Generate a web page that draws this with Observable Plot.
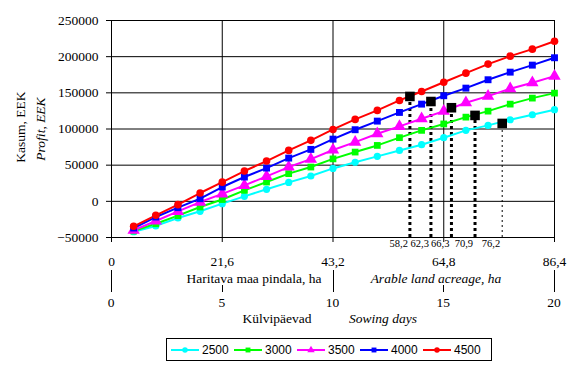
<!DOCTYPE html>
<html><head><meta charset="utf-8">
<script src="https://cdn.jsdelivr.net/npm/d3@7"></script>
<script src="https://cdn.jsdelivr.net/npm/@observablehq/plot@0.6"></script>
<style>
body{margin:0;background:#fff;}
#wrap{position:relative;width:578px;height:375px;background:#fff;font-family:"Liberation Serif","Times New Roman",serif;}
#wrap svg{position:absolute;left:0;top:0;}
#legend{position:absolute;left:166px;top:338px;width:324px;height:21px;border:1px solid #000;display:flex;align-items:center;font-family:"Liberation Sans",Arial,sans-serif;font-size:12px;color:#000;}
.item{display:flex;align-items:center;width:63px;}
.item span{margin-left:3px;}
</style></head><body><div id="wrap"></div>
<script>
// Sowing days and the matching arable land acreage (ha)
const days = [1,2,3,4,5,6,7,8,9,10,11,12,13,14,15,16,17,18,19,20];
const acreage = [4.32,8.64,12.96,17.28,21.6,25.92,30.24,34.56,38.88,43.2,47.52,51.84,56.16,60.48,64.8,69.12,73.44,77.76,82.08,86.4];

// Profit (EEK) for each price level
const seriesNames = ["2500","3000","3500","4000","4500"];
const profit2500 = [-42000,-34000,-23000,-13800,-3200,6900,16600,26200,35000,45500,54000,62200,70400,78300,88000,98100,105000,112800,119700,126700];
const profit3000 = [-41000,-31000,-19800,-7800,2500,15200,26700,38300,47400,58700,68100,77300,88000,98100,107000,116400,124700,134400,142700,149600];
const profit3500 = [-40000,-27200,-13800,-1000,10300,22100,34500,47400,58400,71000,81900,93500,103600,114200,124700,136300,145500,155700,164000,173100];
const profit4000 = [-36900,-21700,-8700,3700,19800,33600,46000,59800,71800,86000,99000,110900,122900,134400,146000,156500,168100,178600,188300,198500];
const profit4500 = [-34500,-19300,-4600,11500,26500,41900,55700,70400,84300,99400,113300,125700,139500,151900,164600,177200,189700,200700,210400,221400];
const seriesValues = [profit2500, profit3000, profit3500, profit4000, profit4500];
const seriesColors = ["#00FFFF","#00FF00","#FF00FF","#0000FF","#FF0000"];
const seriesSymbols = ["circle","square","triangle","square","circle"];
const seriesR = [3.6, 3.8, 4.6, 3.9, 3.8];

// Optimum points
const breakX = [58.2, 62.3, 66.3, 70.9, 76.2];
const breakY = [145000, 138000, 129400, 118800, 107700];
const breakLabels = ["58,2","62,3","66,3","70,9","76,2"];

// Axis ticks
const yTicks = [-50000,0,50000,100000,150000,200000,250000];
const acreTicks = [0,21.6,43.2,64.8,86.4];
const acreLabels = ["0","21,6","43,2","64,8","86,4"];
const dayTicks = [0,5,10,15,20];
const dayLabels = ["0","5","10","15","20"];
const haPerDay = 4.32;

const breaks = breakX.map((x,i)=>({x, y: breakY[i], label: breakLabels[i]}));

const seriesMarks = [];
seriesNames.forEach((name, s) => {
  const rows = acreage.map((a,i)=>({x:a, y:seriesValues[s][i]}));
  seriesMarks.push(Plot.line(rows, {x:"x", y:"y", stroke: seriesColors[s], strokeWidth: 2}));
});
seriesNames.forEach((name, s) => {
  const rows = acreage.map((a,i)=>({x:a, y:seriesValues[s][i]}));
  seriesMarks.push(Plot.dot(rows, {x:"x", y:"y", symbol: seriesSymbols[s], r: seriesR[s], fill: seriesColors[s], stroke: "none"}));
});

const plot = Plot.plot({
  width: 578, height: 337,
  marginLeft: 111, marginRight: 24, marginTop: 20, marginBottom: 100,
  style: {fontFamily: "'Liberation Serif', 'Times New Roman', serif", fontSize: "13px", color: "black", background: "white", overflow: "visible"},
  x: {domain: [0, 86.4]},
  y: {domain: [-50000, 250000]},
  marks: [
    Plot.gridY(yTicks.filter(v => v > -50000), {stroke: "black", strokeOpacity: 1}),
    Plot.gridX(acreTicks.filter(v => v > 0), {stroke: "black", strokeOpacity: 1}),
    Plot.ruleX([0], {stroke: "black"}),
    Plot.ruleY([-50000], {stroke: "black"}),
    Plot.axisY(yTicks, {tickSize: 5, tickPadding: 8, tickFormat: d3.format("d"), label: null, fontSize: 13.5}),
    Plot.axisX(acreTicks, {tickSize: 5, tickPadding: 14, tickFormat: d => acreLabels[acreTicks.indexOf(d)], label: null, fontSize: 13.5}),
    Plot.ruleX(breaks.slice(0,4), {x: "x", y1: -50000, y2: "y", stroke: "black", strokeWidth: 3, strokeDasharray: "3,3"}),
    Plot.ruleX(breaks.slice(4), {x: "x", y1: -50000, y2: "y", stroke: "black", strokeWidth: 1, strokeDasharray: "2,3"}),
    ...seriesMarks,
    Plot.dot(breaks, {x: "x", y: "y", symbol: "square", r: 5.4, fill: "black", stroke: "none"}),
    Plot.text(breaks, {x: "x", text: "label", frameAnchor: "bottom", textAnchor: "end", dx: -2, dy: 9, fontSize: 10.5})
  ]
});

const wrap = document.getElementById("wrap");
wrap.appendChild(plot);

// Secondary axis (sowing days) and titles, positioned with Plot's x scale
const xs = plot.scale("x");
const svg = d3.select(plot);
const g = svg.append("g").attr("stroke", "black").attr("fill", "none");
dayTicks.forEach(d => {
  const px = Math.round(xs.apply(d * haPerDay)) + 0.5;
  const major = d % 10 === 0;
  g.append("line").attr("x1", px).attr("x2", px).attr("y1", major ? 270 : 285).attr("y2", 292);
});
const t = svg.append("g").attr("fill", "black").attr("font-family", "'Liberation Serif', 'Times New Roman', serif").attr("font-size", 13.5);
dayTicks.forEach((d,i) => {
  t.append("text").attr("x", xs.apply(d * haPerDay)).attr("y", 307).attr("text-anchor", "middle").text(dayLabels[i]);
});
t.append("text").attr("x", 254).attr("y", 283).attr("text-anchor", "middle").text("Haritava maa pindala, ha");
t.append("text").attr("x", 436).attr("y", 283).attr("text-anchor", "middle").attr("font-style", "italic").text("Arable land acreage, ha");
t.append("text").attr("x", 277).attr("y", 323).attr("text-anchor", "middle").text("Külvipäevad");
t.append("text").attr("x", 383).attr("y", 323).attr("text-anchor", "middle").attr("font-style", "italic").text("Sowing days");
t.append("text").attr("transform", "translate(20,127) rotate(-90)").attr("text-anchor", "middle").attr("dominant-baseline", "central").text("Kasum, EEK");
t.append("text").attr("transform", "translate(40,129) rotate(-90)").attr("text-anchor", "middle").attr("dominant-baseline", "central").attr("font-style", "italic").text("Profit, EEK");

// Legend
const legend = document.createElement("div");
legend.id = "legend";
seriesNames.forEach((name, s) => {
  const item = document.createElement("div");
  item.className = "item";
  if (s === 0) item.style.marginLeft = "4px";
  const sw = d3.create("svg").attr("width", 28).attr("height", 10).style("position", "static");
  sw.append("line").attr("x1", 0).attr("x2", 28).attr("y1", 5).attr("y2", 5).attr("stroke", seriesColors[s]).attr("stroke-width", 2);
  const sym = {circle: d3.symbolCircle, square: d3.symbolSquare, triangle: d3.symbolTriangle}[seriesSymbols[s]];
  sw.append("path").attr("transform", "translate(14,5)").attr("d", d3.symbol(sym, 24)()).attr("fill", seriesColors[s]);
  item.appendChild(sw.node());
  const label = document.createElement("span");
  label.textContent = name;
  item.appendChild(label);
  legend.appendChild(item);
});
wrap.appendChild(legend);
</script></body></html>
